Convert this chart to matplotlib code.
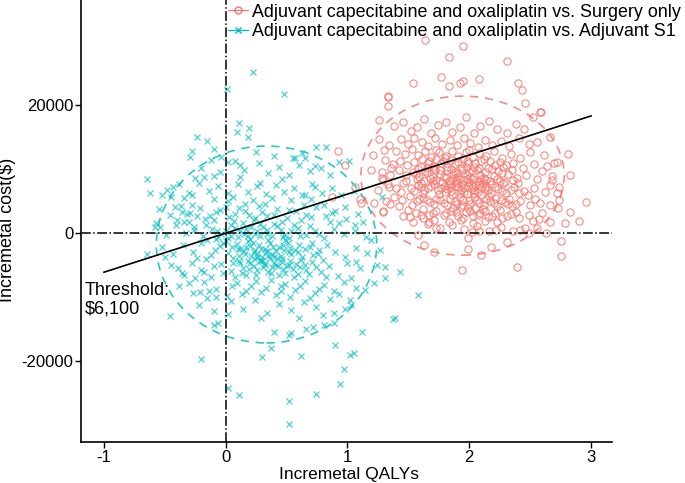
import matplotlib
matplotlib.use("Agg")
import matplotlib.pyplot as plt
import numpy as np
from matplotlib.patches import Ellipse
from matplotlib.lines import Line2D

plt.rcParams['font.family'] = ['Liberation Sans', 'DejaVu Sans']
plt.rcParams['axes.unicode_minus'] = False

# ---- data ----
# CAPOX vs. surgery only: (incremental QALYs, incremental cost $)
surgery_pts = [
    (1.64, 30200), (1.95, 29200), (1.83, 27450), (2.31, 26900), (1.77, 24400), (1.54, 23400),
    (1.95, 23800), (2.08, 24100), (2.40, 23500), (2.43, 22300), (1.83, 23000), (1.92, 23400),
    (1.33, 21350), (1.33, 19800), (2.46, 20300), (2.58, 18900), (0.92, 12860), (0.98, 10700),
    (0.87, 5670), (1.06, 7140), (1.11, 4640), (1.26, 17650), (1.26, 14640), (1.33, 21300),
    (1.21, 12200), (1.19, 9840), (1.28, 8550), (1.30, 12970), (1.29, 3330), (1.34, 7230),
    (1.10, 5300), (1.22, 4640), (1.29, 3440), (1.35, 4480), (1.51, 2580), (1.58, -310),
    (1.63, -1870), (1.71, -3020), (1.94, -5780), (1.99, -2400), (2.10, -3440), (2.18, -2140),
    (2.31, -1460), (2.39, -5360), (2.75, -1200), (2.75, -3540), (2.96, 4900), (2.90, 1880),
    (2.83, 3330), (2.79, 1510), (2.66, 1770), (2.63, -50), (2.49, -50), (2.42, 470),
    (2.56, 730), (2.02, 200), (1.99, -730), (2.22, 470), (2.08, 310), (1.73, 730),
    (1.67, 1770), (1.62, 2300), (2.74, 5160), (2.73, 3860), (2.83, 9060), (2.81, 12300),
    (2.72, 11150), (2.66, 15050), (2.59, 18950), (2.52, 18200), (2.68, 8280), (2.74, 7230),
    (1.38, 16800), (1.46, 17300), (1.52, 15900), (1.57, 16600), (1.63, 17800), (1.69, 15600),
    (1.74, 16900), (1.81, 17400), (1.86, 15800), (1.92, 16500), (1.97, 18200), (2.04, 15700),
    (2.09, 16800), (2.16, 17500), (2.23, 16200), (2.31, 15600), (2.38, 17100), (2.45, 16300),
    (1.44, 14700), (1.50, 13900), (1.55, 14900), (1.61, 14200), (1.66, 13600), (1.72, 14800),
    (1.78, 13900), (1.84, 14500), (1.90, 13700), (1.96, 14900), (2.01, 14100), (2.07, 13500),
    (2.13, 14600), (2.19, 13800), (2.26, 14400), (2.33, 13600), (2.41, 14800), (2.49, 13900),
    (2.56, 14200), (1.34, 13800), (1.40, 12900), (1.47, 12400), (1.53, 13100), (1.58, 12200),
    (1.64, 12800), (1.69, 11900), (1.75, 12600), (1.80, 11800), (1.86, 12900), (1.91, 12100),
    (1.97, 12700), (2.03, 11900), (2.08, 12500), (2.14, 12000), (2.20, 12800), (2.27, 11700),
    (2.34, 12400), (2.42, 11800), (2.50, 12600), (2.61, 12200), (1.31, 11400), (1.37, 10800),
    (1.43, 11300), (1.49, 10600), (1.55, 11100), (1.60, 10400), (1.66, 10900), (1.71, 10200),
    (1.77, 11000), (1.82, 10300), (1.88, 10800), (1.93, 10100), (1.99, 10900), (2.04, 10400),
    (2.10, 11200), (2.15, 10100), (2.21, 10700), (2.28, 10300), (2.36, 11000), (2.44, 10200),
    (2.53, 10800), (2.64, 10500), (1.28, 9600), (1.35, 9100), (1.42, 9800), (1.48, 9000),
    (1.54, 9500), (1.59, 8800), (1.65, 9400), (1.70, 8700), (1.76, 9300), (1.81, 8600),
    (1.87, 9200), (1.92, 8500), (1.98, 9100), (2.03, 8400), (2.09, 9000), (2.14, 8300),
    (2.20, 8900), (2.25, 8200), (2.32, 9300), (2.39, 8600), (2.47, 9100), (2.56, 8400),
    (2.68, 8900), (1.33, 7600), (1.40, 7100), (1.46, 7800), (1.52, 7000), (1.58, 7500),
    (1.63, 6800), (1.69, 7400), (1.74, 6700), (1.80, 7300), (1.85, 6600), (1.91, 7200),
    (1.96, 6500), (2.02, 7100), (2.07, 6400), (2.13, 7000), (2.18, 6300), (2.24, 6900),
    (2.30, 6200), (2.37, 7200), (2.45, 6600), (2.53, 7000), (2.62, 6400), (1.38, 5600),
    (1.45, 5100), (1.51, 5800), (1.57, 5000), (1.62, 5500), (1.68, 4800), (1.73, 5400),
    (1.79, 4700), (1.84, 5300), (1.90, 4600), (1.95, 5200), (2.01, 4500), (2.06, 5100),
    (2.12, 4400), (2.17, 5000), (2.23, 4300), (2.29, 4900), (2.35, 4200), (2.42, 5000),
    (2.50, 4400), (2.58, 4700), (1.50, 3600), (1.56, 3100), (1.62, 3700), (1.67, 2900),
    (1.73, 3500), (1.79, 2800), (1.85, 3400), (1.91, 2700), (1.97, 3300), (2.03, 2600),
    (2.09, 3200), (2.15, 2500), (2.21, 3100), (2.27, 2400), (2.34, 3000), (2.41, 2300),
    (2.49, 2900), (2.57, 2200), (1.66, 1500), (1.76, 800), (1.86, 1300), (1.96, 600),
    (2.06, 1100), (2.16, 400), (2.26, 1000), (2.36, 300), (2.46, 800),
    (1.78, 8000), (1.84, 7700), (1.89, 8100), (1.94, 7600), (2.00, 8000), (2.05, 7500),
    (2.11, 7900), (1.82, 9900), (1.88, 9600), (1.94, 9900), (2.00, 9500), (2.06, 9800),
    (1.86, 6000), (1.92, 5700), (1.98, 6100), (2.04, 5600), (2.10, 6000), (1.75, 6100),
    (2.16, 5800), (1.70, 8200), (2.18, 7600), (1.99, 3900), (2.05, 4000), (1.93, 4100),
    (1.87, 3900), (2.11, 3700), (1.72, 9900), (2.24, 9700), (1.60, 7900), (1.65, 10100),
    (2.22, 5500), (2.28, 7800), (1.56, 9300), (1.62, 6200), (2.33, 5400), (1.81, 12000),
    (1.95, 11600), (2.12, 11500), (2.00, 13000), (1.73, 13000), (2.30, 10700), (1.48, 8200),
    (1.44, 6400), (2.40, 7900), (2.48, 6000), (2.54, 5300), (2.60, 9700), (2.66, 7500),
    (2.72, 6200), (2.70, 10900), (1.36, 10200), (1.29, 8300), (1.25, 6800), (1.32, 5000),
    (1.42, 4200), (1.46, 2600), (1.54, 1800), (2.52, 1900), (2.60, 3100), (2.66, 4400),
    (1.61, 11600), (1.67, 11300), (1.73, 11500), (1.79, 11200), (1.85, 11400), (1.91, 11100),
    (1.98, 11300), (2.05, 11000), (2.17, 11300), (2.25, 11100), (1.58, 10000), (1.64, 9700),
    (1.70, 10500), (1.76, 9800), (1.85, 10000), (1.91, 9400), (1.97, 10300), (2.02, 9700),
    (2.08, 10200), (2.13, 9500), (2.19, 10000), (2.27, 9400), (2.35, 9900), (1.57, 8400),
    (1.63, 8100), (1.68, 8600), (1.73, 8300), (1.79, 8800), (1.83, 8200), (1.90, 8800),
    (1.96, 8300), (2.01, 8700), (2.07, 8200), (2.12, 8600), (2.17, 8100), (2.23, 8500),
    (2.29, 8000), (2.36, 8300), (1.55, 6600), (1.60, 7200), (1.66, 7000), (1.71, 7600),
    (1.77, 7100), (1.82, 6900), (1.88, 7400), (1.93, 6800), (1.99, 7300), (2.04, 6800),
    (2.10, 7200), (2.15, 6700), (2.21, 7200), (2.27, 6600), (2.34, 6800), (2.41, 6300),
    (1.53, 4400), (1.59, 5300), (1.65, 5100), (1.71, 4500), (1.76, 5100), (1.82, 4400),
    (1.88, 5000), (1.94, 4400), (2.00, 5200), (2.08, 4700), (2.14, 5300), (2.20, 4700),
    (2.26, 5200), (2.32, 4600), (2.38, 4500), (1.60, 2800), (1.70, 3200), (1.81, 3100),
    (1.89, 3300), (1.95, 2400), (2.01, 3500), (2.07, 2900), (2.13, 3400), (2.19, 2700),
    (2.25, 3600), (2.31, 2700), (2.38, 3300), (1.83, 1700), (1.93, 2000), (2.03, 1600),
    (2.13, 1900), (2.23, 1700), (1.71, 2100), (1.80, 6400), (1.86, 8400), (1.92, 6300),
    (1.98, 8500), (2.04, 6200), (2.10, 8400), (1.96, 7000), (2.02, 7500), (1.90, 7900),
    (1.84, 7200), (2.08, 7600), (2.14, 7400),
]

# CAPOX vs. adjuvant S1
s1_pts = [
    (0.22, 25100), (0.01, 22450), (0.11, 17140), (0.09, 15730), (0.19, 16360), (0.18, 14950),
    (-0.24, 15050), (-0.15, 14380), (-0.10, 13080), (-0.28, 12860), (-0.29, 11920), (-0.04, 11920),
    (0.02, 11140), (0.12, 10580), (-0.65, 8390), (-0.62, 6200), (-0.52, 5940), (-0.43, 7230),
    (-0.45, 5670), (-0.25, 8550), (-0.18, 8800), (-0.10, 8900), (-0.57, 1610), (-0.54, 890),
    (-0.42, 4110), (-0.36, 3330), (-0.34, 1770), (-0.28, 5940), (-0.28, 4380),
    (0.48, 21700), (0.74, 13480), (0.82, 13380), (0.93, 11140), (1.01, 11250), (0.73, 10470),
    (0.65, 11670), (0.57, 11670), (1.28, 5670), (0.98, 4110), (0.93, 1510), (1.06, 1250),
    (1.13, 1770), (0.87, 3070), (0.81, 4380), (0.73, 7230), (0.65, 5940),
    (1.43, -6140), (1.58, -9690), (1.39, -13230), (1.31, -5360), (1.31, -7080), (1.27, -2660),
    (1.19, -1090), (1.24, -5000), (1.22, -7860), (1.12, -15390), (0.90, -17500), (1.05, -18640),
    (1.02, -19060), (0.97, -21250), (0.94, -23490), (0.74, -25080), (0.52, -26200), (0.52, -29730),
    (0.62, -19170), (0.30, -19320), (0.37, -17860), (1.03, -7080), (1.03, -11250), (0.89, -12400),
    (0.80, -12810), (0.72, -14640), (0.66, -15000), (0.81, -14270), (0.89, -13960), (0.54, -15520),
    (0.52, -15940), (0.40, -15390), (1.07, -4450), (1.14, -8910), (1.02, -10470), (1.37, -13330),
    (-0.65, -3280), (-0.46, -12920), (-0.20, -19690), (0.02, -24170), (0.11, -25310), (-0.10, -14270),
    (-0.06, -13960), (0.02, -12550), (-0.21, -9170), (-0.15, -10200), (-0.08, -9950), (-0.34, -6560),
    (-0.39, -5520), (-0.25, -7080), (-0.50, -3700),
    (-0.20, 10200), (-0.05, 9600), (0.08, 11200), (0.15, 9800), (0.27, 10900), (0.35, 9400),
    (0.44, 10300), (0.52, 9100), (0.60, 10600), (0.69, 9700), (0.78, 10100), (0.86, 9000),
    (0.40, 12000), (0.25, 12600), (0.55, 11800), (-0.12, 11400), (0.63, 12500),
    (-0.48, 6800), (-0.38, 7600), (-0.30, 6300), (-0.22, 7800), (-0.14, 6600), (-0.06, 7400),
    (0.02, 6200), (0.10, 7700), (0.18, 6500), (0.26, 7300), (0.33, 6100), (0.41, 7500),
    (0.48, 6400), (0.56, 7100), (0.63, 6000), (0.71, 7600), (0.79, 6300), (0.87, 7000),
    (0.95, 5900), (1.05, 6600), (-0.10, 5300), (0.06, 5600), (0.22, 5100), (0.38, 5500),
    (0.54, 5200), (0.70, 5400),
    (-0.55, 3800), (-0.46, 2900), (-0.37, 4300), (-0.29, 3100), (-0.21, 4000), (-0.13, 2700),
    (-0.05, 3600), (0.03, 2500), (0.11, 3900), (0.19, 2800), (0.27, 4200), (0.34, 2600),
    (0.42, 3700), (0.50, 2400), (0.58, 3500), (0.66, 2900), (0.74, 4100), (0.82, 2600),
    (0.90, 3400), (0.99, 2200), (1.09, 3000), (-0.40, 2000), (-0.17, 2200), (0.07, 1900),
    (0.23, 2100), (0.46, 1800), (0.62, 2000), (0.86, 1700),
    (-0.58, 900), (-0.49, -300), (-0.41, 1200), (-0.33, 100), (-0.26, 1000), (-0.19, -500),
    (-0.11, 700), (-0.04, -200), (0.04, 1300), (0.10, -600), (0.17, 600), (0.24, -100),
    (0.31, 900), (0.38, -400), (0.45, 500), (0.52, -700), (0.59, 800), (0.66, -300),
    (0.73, 400), (0.81, -800), (0.89, 600), (0.97, -200), (1.06, 300), (1.15, -600),
    (0.00, 300), (0.14, 1600), (0.28, 1400), (0.42, 1100), (0.56, 1300), (-0.08, -900),
    (0.20, -900), (0.35, -1000), (0.49, -1000),
    (-0.52, -2100), (-0.43, -3300), (-0.35, -1800), (-0.27, -2900), (-0.20, -1500), (-0.12, -3400),
    (-0.05, -2000), (0.02, -3100), (0.09, -1700), (0.15, -2800), (0.21, -3600), (0.27, -1900),
    (0.33, -3000), (0.39, -2200), (0.45, -3500), (0.51, -1600), (0.57, -2700), (0.63, -3700),
    (0.69, -2100), (0.76, -3200), (0.83, -1800), (0.90, -2900), (0.98, -3800), (1.07, -2300),
    (1.16, -3100), (0.12, -2400), (0.24, -2600), (0.36, -1500), (0.30, -3800), (0.48, -2600),
    (0.18, -1300), (0.42, -3900), (0.54, -3300), (0.60, -1900),
    (-0.45, -5000), (-0.36, -6200), (-0.28, -4600), (-0.20, -5700), (-0.12, -6800), (-0.04, -4800),
    (0.04, -5900), (0.11, -4400), (0.17, -6500), (0.23, -5100), (0.29, -4200), (0.35, -6100),
    (0.41, -4900), (0.47, -5600), (0.53, -4300), (0.59, -6400), (0.65, -5000), (0.71, -4500),
    (0.78, -6000), (0.85, -5200), (0.92, -6700), (1.00, -4600), (1.10, -5500), (0.26, -5700),
    (0.32, -4700), (0.38, -5300), (0.20, -4700), (0.44, -6600), (0.50, -5100), (0.14, -5400),
    (0.56, -6900), (0.08, -6900), (0.62, -4200),
    (-0.38, -8200), (-0.27, -9300), (-0.18, -7600), (-0.08, -8700), (0.01, -9800), (0.09, -7800),
    (0.17, -9000), (0.25, -7400), (0.33, -8500), (0.41, -9600), (0.49, -7900), (0.57, -8800),
    (0.65, -7500), (0.73, -9400), (0.81, -8100), (0.89, -9000), (0.97, -7700), (1.07, -8600),
    (0.21, -8300), (0.37, -7300), (0.53, -9900), (0.45, -8200),
    (-0.22, -11200), (-0.10, -12100), (0.04, -10600), (0.14, -11800), (0.24, -10400), (0.34, -12500),
    (0.44, -11000), (0.54, -12000), (0.64, -10700), (0.74, -11600), (0.86, -10300), (0.98, -11900),
    (0.29, -13300), (0.60, -13200),
    (0.20, -2000), (0.26, -3200), (0.32, -2400), (0.38, -3300), (0.44, -2100), (0.30, -4400),
    (0.36, -3900), (0.24, -4100), (0.40, -4600), (0.46, -4100), (0.52, -2900), (0.16, -3200),
    (0.10, -2500), (0.06, -3900), (0.00, -1300), (-0.06, -600), (0.12, 400), (0.18, -400),
    (0.26, 300), (0.04, -500), (0.34, -200), (0.48, -300), (0.58, -4800), (0.66, -5800),
    (0.72, -3400), (0.80, -4200), (-0.16, -4000), (-0.24, -3900), (-0.30, 1800), (-0.10, 2000),
    (0.16, 4600), (0.30, 3300), (-0.34, 5500), (0.28, 7800), (0.46, 8500), (0.12, 8700),
    (0.02, 5000),
    (-0.15, -1000), (-0.09, -2600), (-0.02, -1600), (0.05, -2200), (0.11, -3500), (0.17, -2100),
    (0.23, -3000), (0.29, -2500), (0.35, -3500), (0.41, -2800), (0.47, -1800), (0.53, -2300),
    (0.59, -3000), (0.65, -2500), (0.71, -1500), (0.77, -2600), (-0.18, -6000), (-0.10, -5200),
    (-0.02, -6300), (0.06, -4600), (0.13, -6200), (0.19, -5600), (0.25, -6600), (0.31, -5300),
    (0.37, -6300), (0.43, -5200), (0.49, -6200), (0.55, -5600), (0.61, -5300), (0.68, -6400),
    (0.74, -5300), (0.82, -6800), (-0.26, 500), (-0.16, 1300), (-0.07, 400), (0.02, -800),
    (0.08, 800), (0.15, -100), (0.21, 1000), (0.28, -500), (0.34, 500), (0.40, 1500),
    (0.47, -600), (0.54, 300), (0.61, -400), (0.69, 1100), (0.77, -100), (-0.32, 3000),
    (-0.24, 2600), (-0.08, 3300), (0.00, 4100), (0.08, 3000), (0.16, 3500), (0.24, 2400),
    (0.32, 4500), (0.40, 2900), (0.52, 3600), (0.64, 4400), (0.70, 2500), (-0.30, -7800),
    (-0.14, -9000), (0.05, -8200), (0.13, -9500), (0.29, -9200), (0.45, -9000), (0.61, -8200),
    (0.69, -10100), (0.77, -8700), (0.93, -9500), (0.22, -1500), (0.28, -4300), (0.34, -2800),
    (0.40, -3700), (0.18, -4400), (0.46, -4500), (0.12, -4700), (0.52, -4900), (0.26, -3700),
    (0.32, -5000),
]

# confidence ellipses: centre x, centre y, full width, full height
surgery_ellipse = [1.945, 8980, 1.67, 24840]
s1_ellipse = [0.335, -1770, 1.81, 30740]

threshold = 6100          # $ per QALY
threshold_x = [-1, 3]

labels = ['Adjuvant capecitabine and oxaliplatin vs. Surgery only',
          'Adjuvant capecitabine and oxaliplatin vs. Adjuvant S1']
red = '#F8766D'
cyan = '#00BFC4'

surgery = np.array(surgery_pts)
s1 = np.array(s1_pts)

fig = plt.figure(figsize=(6.85, 4.83), dpi=100)
ax = fig.add_axes([0.118, 0.085, 0.775, 0.915])

ax.plot(s1[:, 0], s1[:, 1], 'x', color=cyan, ms=5, mew=0.9, alpha=0.7, ls='none')
ax.plot(surgery[:, 0], surgery[:, 1], 'o', mfc='none', mec=red, ms=5.2, mew=0.8, alpha=0.85, ls='none')

for e, c in [(surgery_ellipse, red), (s1_ellipse, cyan)]:
    ax.add_patch(Ellipse((e[0], e[1]), e[2], e[3], fill=False, edgecolor=c,
                         ls=(0, (5, 4)), lw=1.2, alpha=0.85))

ax.axhline(0, color='black', ls='-.', lw=1.1)
ax.axvline(0, color='black', ls='-.', lw=1.1)

tx = np.array(threshold_x)
ax.plot(tx, threshold * tx, color='black', lw=1.2)
ax.text(-1.16, -7600, 'Threshold:\n$6,100', fontsize=13, va='top', ha='left', linespacing=1.15)

ax.set_xlim(-1.19, 3.17)
ax.set_ylim(-32600, 36400)
ax.set_xticks([-1, 0, 1, 2, 3])
ax.set_yticks([-20000, 0, 20000])
ax.tick_params(direction='out', length=4, width=1, labelsize=12, pad=1.5)
for s in ['top', 'right']:
    ax.spines[s].set_visible(False)
for s in ['left', 'bottom']:
    ax.spines[s].set_linewidth(1.2)
ax.set_xlabel('Incremetal QALYs', fontsize=12.5)
ax.set_ylabel('Incremetal cost($)', fontsize=13)
ax.xaxis.set_label_coords(0.505, -0.057)
ax.yaxis.set_label_coords(-0.123, 0.48)

handles = [Line2D([0], [0], color=red, marker='o', mfc='none', ms=5, lw=0.9),
           Line2D([0], [0], color=cyan, marker='x', ms=5, lw=0.9)]
ax.legend(handles, labels, loc='upper left', bbox_to_anchor=(0.26, 1.012), frameon=False,
          fontsize=12.9, handlelength=1.1, handletextpad=0.25, labelspacing=0.15, borderpad=0)

fig.savefig('out.png', dpi=100)
